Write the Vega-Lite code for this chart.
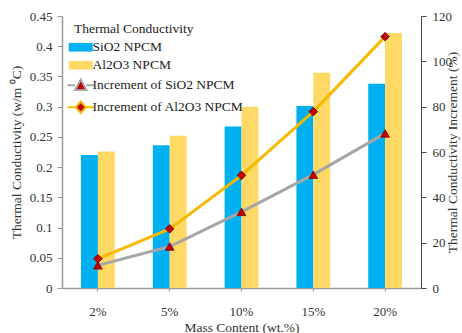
{
  "$schema": "https://vega.github.io/schema/vega-lite/v6.json",
  "autosize": {"type": "none"},
  "width": 359,
  "height": 272,
  "padding": {"left": 62, "top": 16, "right": 41, "bottom": 45},
  "background": "white",
  "config": {
    "view": {"stroke": null},
    "font": "Liberation Serif",
    "axis": {"labelFont": "Liberation Serif", "titleFont": "Liberation Serif", "labelFontSize": 13, "titleFontSize": 13.5, "titleFontWeight": "normal", "labelColor": "#333333", "titleColor": "#333333", "grid": false},
    "legend": {"labelFont": "Liberation Serif", "titleFont": "Liberation Serif"}
  },
  "data": {
    "values": [
      {"cat": "2%", "series": "SiO2 NPCM", "kind": "bar", "value": 0.220},
      {"cat": "5%", "series": "SiO2 NPCM", "kind": "bar", "value": 0.236},
      {"cat": "10%", "series": "SiO2 NPCM", "kind": "bar", "value": 0.267},
      {"cat": "15%", "series": "SiO2 NPCM", "kind": "bar", "value": 0.301},
      {"cat": "20%", "series": "SiO2 NPCM", "kind": "bar", "value": 0.338},
      {"cat": "2%", "series": "Al2O3 NPCM", "kind": "bar", "value": 0.226},
      {"cat": "5%", "series": "Al2O3 NPCM", "kind": "bar", "value": 0.252},
      {"cat": "10%", "series": "Al2O3 NPCM", "kind": "bar", "value": 0.300},
      {"cat": "15%", "series": "Al2O3 NPCM", "kind": "bar", "value": 0.356},
      {"cat": "20%", "series": "Al2O3 NPCM", "kind": "bar", "value": 0.422},
      {"cat": "2%", "series": "Increment of SiO2 NPCM", "kind": "inc", "value": 10.0},
      {"cat": "5%", "series": "Increment of SiO2 NPCM", "kind": "inc", "value": 18.3},
      {"cat": "10%", "series": "Increment of SiO2 NPCM", "kind": "inc", "value": 33.6},
      {"cat": "15%", "series": "Increment of SiO2 NPCM", "kind": "inc", "value": 50.0},
      {"cat": "20%", "series": "Increment of SiO2 NPCM", "kind": "inc", "value": 68.2},
      {"cat": "2%", "series": "Increment of Al2O3 NPCM", "kind": "inc", "value": 12.9},
      {"cat": "5%", "series": "Increment of Al2O3 NPCM", "kind": "inc", "value": 26.1},
      {"cat": "10%", "series": "Increment of Al2O3 NPCM", "kind": "inc", "value": 49.7},
      {"cat": "15%", "series": "Increment of Al2O3 NPCM", "kind": "inc", "value": 77.8},
      {"cat": "20%", "series": "Increment of Al2O3 NPCM", "kind": "inc", "value": 110.9}
    ]
  },
  "encoding": {
    "x": {
      "field": "cat", "type": "nominal",
      "sort": ["2%", "5%", "10%", "15%", "20%"],
      "scale": {"paddingInner": 0.53, "paddingOuter": 0.265},
      "axis": {"title": "Mass Content (wt.%)", "labelAngle": 0, "labelPadding": 14, "titlePadding": 2, "domainColor": "#9a9a9a", "domainWidth": 1.5, "tickColor": "#9a9a9a", "tickSize": 3, "labelFont": "Liberation Serif", "titleFont": "Liberation Serif"}
    }
  },
  "layer": [
    {
      "transform": [{"filter": "datum.kind == 'bar'"}],
      "mark": {"type": "bar"},
      "encoding": {
        "xOffset": {"field": "series", "type": "nominal", "sort": ["SiO2 NPCM", "Al2O3 NPCM"], "scale": {"paddingInner": 0, "paddingOuter": 0}},
        "y": {
          "field": "value", "type": "quantitative",
          "scale": {"domain": [0, 0.45], "nice": false},
          "axis": {"title": "Thermal Conductivity (w/m ⁰C)", "values": [0, 0.05, 0.1, 0.15, 0.2, 0.25, 0.3, 0.35, 0.4, 0.45], "labelExpr": "datum.value == 0 ? '0' : format(datum.value, '.2~f')", "domainColor": "#9a9a9a", "domainWidth": 1.5, "tickColor": "#9a9a9a", "tickSize": 5, "labelPadding": 5, "titlePadding": 6, "labelFont": "Liberation Serif", "titleFont": "Liberation Serif"}
        },
        "color": {
          "field": "series", "type": "nominal",
          "scale": {"domain": ["SiO2 NPCM", "Al2O3 NPCM", "Increment of SiO2 NPCM", "Increment of Al2O3 NPCM"], "range": ["#00B0F0", "#FFD966", "#C00000", "#C00000"]},
          "legend": {
            "title": "Thermal Conductivity",
            "orient": "none", "legendX": 12, "legendY": 6,
            "titleFont": "Liberation Serif", "labelFont": "Liberation Serif",
            "titleFontSize": 13.5, "titleFontWeight": "normal", "titleColor": "#222222", "titlePadding": 5,
            "labelFontSize": 13.5, "labelColor": "#222222", "labelOffset": 5,
            "symbolSize": 144, "rowPadding": 3, "padding": 0,
            "encode": {
              "symbols": {"update": {
                "shape": {"signal": "datum.value == 'Increment of SiO2 NPCM' ? 'M-2.2,0H-0.95M0.95,0H2.2M-0.95,0.8L0,-0.95L0.95,0.8Z' : datum.value == 'Increment of Al2O3 NPCM' ? 'M-2.2,0H-0.9M0.9,0H2.2M0,-0.95L0.85,0L0,0.95L-0.85,0Z' : 'M-2,-0.72H2V0.72H-2Z'"},
                "stroke": {"signal": "datum.value == 'Increment of SiO2 NPCM' ? '#A6A6A6' : datum.value == 'Increment of Al2O3 NPCM' ? '#F5BA00' : '#ffffff'"},
                "strokeWidth": {"signal": "datum.value == 'Increment of SiO2 NPCM' || datum.value == 'Increment of Al2O3 NPCM' ? 2 : 0"},
                "opacity": {"value": 1},
                "fillOpacity": {"value": 1}
              }}
            }
          }
        }
      }
    },
    {
      "transform": [{"filter": "datum.kind == 'inc'"}],
      "encoding": {
        "y": {
          "field": "value", "type": "quantitative",
          "scale": {"domain": [0, 120], "nice": false},
          "axis": {"orient": "right", "title": "Thermal Conductivity Increment (%)", "values": [0, 20, 40, 60, 80, 100, 120], "titleAngle": -90, "domainColor": "#444444", "domainWidth": 1, "tickColor": "#444444", "tickSize": 5, "labelPadding": 6, "titlePadding": 8, "labelFont": "Liberation Serif", "titleFont": "Liberation Serif"}
        }
      },
      "layer": [
        {
          "mark": {"type": "line", "strokeWidth": 3},
          "encoding": {"stroke": {"field": "series", "type": "nominal", "scale": {"domain": ["Increment of SiO2 NPCM", "Increment of Al2O3 NPCM"], "range": ["#A6A6A6", "#F5BA00"]}, "legend": null}}
        },
        {
          "transform": [{"filter": "datum.series == 'Increment of SiO2 NPCM'"}],
          "mark": {"type": "point", "shape": "triangle-up", "filled": true, "fill": "#C00000", "stroke": "#7A0000", "strokeWidth": 0.8, "opacity": 1, "size": 75},
          "encoding": {}
        },
        {
          "transform": [{"filter": "datum.series == 'Increment of Al2O3 NPCM'"}],
          "mark": {"type": "point", "shape": "diamond", "filled": true, "fill": "#C00000", "stroke": "#7A0000", "strokeWidth": 0.8, "opacity": 1, "size": 75},
          "encoding": {}
        }
      ]
    }
  ],
  "resolve": {"scale": {"y": "independent"}}
}
